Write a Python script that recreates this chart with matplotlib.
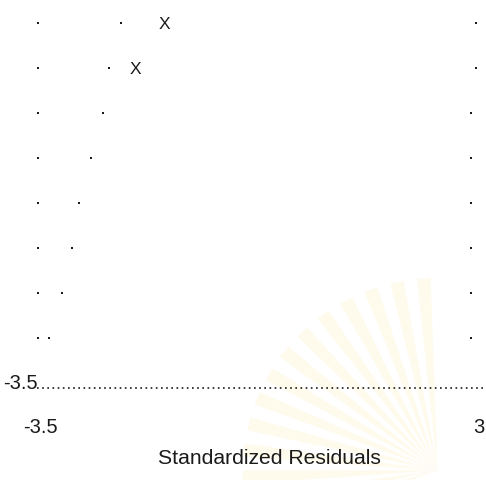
import matplotlib
matplotlib.use("Agg")
import matplotlib.pyplot as plt
import numpy as np
from matplotlib.patches import Wedge

# ---------------------------------------------------------------------------
# Data (x = standardized residual, y = row index)
# ---------------------------------------------------------------------------
rows = [8, 7, 6, 5, 4, 3, 2, 1]
left_edge = [-3.5, -3.5, -3.5, -3.5, -3.5, -3.5, -3.5, -3.5]
points = [-2.27, -2.44, -2.53, -2.71, -2.89, -2.99, -3.15, -3.33]
right_edge = [3.0, 3.0, 2.93, 2.93, 2.93, 2.93, 2.93, 2.93]

x_rows = [8, 7]
x_vals = [-1.63, -2.06]

x_ticks = [-3.5, 3]
x_tick_labels = ["-3.5", "3"]
baseline_label = "-3.5"
x_title = "Standardized Residuals"

plt.rcParams["font.family"] = ["Liberation Sans", "DejaVu Sans"]
INK = "#1a1a1a"

fig = plt.figure(figsize=(4.86, 4.81), dpi=100)
ax = fig.add_axes([0, 0, 1, 1])
x_lo, x_hi = -4.064, 3.149
ax.set_xlim(x_lo, x_hi)
ax.set_ylim(-2.156, 8.533)
ax.axis("off")

# very faint scanned watermark in the lower right
for i in range(14):
    a0 = 92 + i * 8
    ax.add_patch(Wedge((0.9, 0.02), 0.40, a0, a0 + 4,
                       transform=ax.transAxes, color="#fefaec",
                       zorder=0, lw=0))

dot = dict(marker="s", s=4.5, color=INK, linewidths=0, zorder=3)
ax.scatter(left_edge, rows, **dot)
ax.scatter(points, rows, **dot)
ax.scatter(right_edge, rows, **dot)

for xv, r in zip(x_vals, x_rows):
    ax.text(xv, r - 0.12, "X", fontsize=12.5, ha="center", va="baseline",
            color=INK)

# baseline row: "-3.5" then a dotted run to the right edge
ax.text(-4.02, -0.11, baseline_label, fontsize=14.5, ha="left",
        va="baseline", color=INK)
ax.plot([-3.52, x_hi], [-0.11, -0.11], color=INK, lw=1.2,
        linestyle=(0, (1, 2.1)), dash_capstyle="butt")

for xv, lab in zip(x_ticks, x_tick_labels):
    ax.text(xv + 0.04, -1.1, lab, fontsize=14.5, ha="center",
            va="baseline", color=INK)

ax.text(-1.72, -1.78, x_title, fontsize=15.2, ha="left", va="baseline",
        color=INK)

fig.savefig("out.png", dpi=100)
